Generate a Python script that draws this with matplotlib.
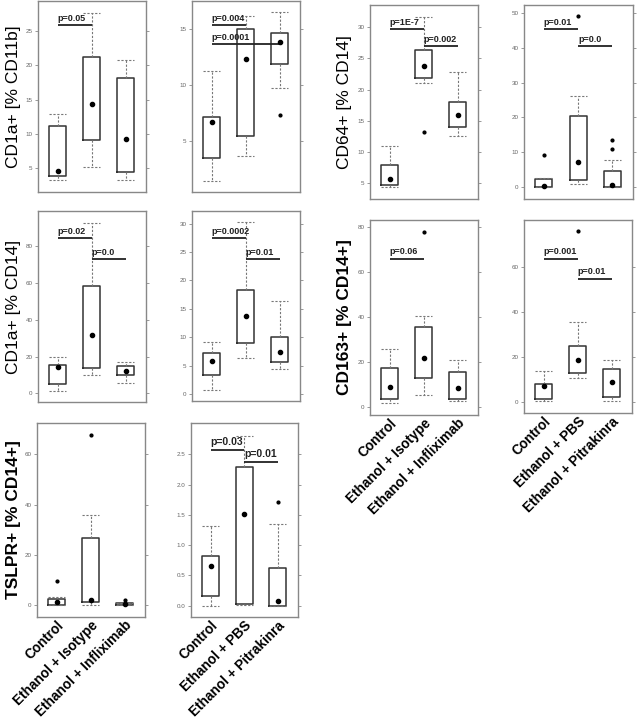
import matplotlib
matplotlib.use("Agg")
from matplotlib import pyplot as plt

plt.rcParams['font.family'] = ['Liberation Sans', 'DejaVu Sans']

# each row: [whisker low, q1, q3, whisker high, mean dot]
cd1a_cd11b = [[3.3, 3.8, 11.1, 12.9, 4.6], [5.1, 9.1, 21.2, 27.6, 14.4], [3.2, 4.4, 18.2, 20.8, 9.3]]
cd1a_cd11b_out = [[], [], []]
cd1a_cd11b_p = [("p=0.05", 1, 2, 25.9)]

cd1a_cd11b_b = [[1.4, 3.4, 7.1, 11.2, 6.7], [3.6, 5.4, 15.0, 16.2, 12.3], [9.7, 11.9, 14.6, 16.5, 13.8]]
cd1a_cd11b_b_out = [[], [], [7.3]]
cd1a_cd11b_b_p = [("p=0.004", 1, 2, 15.36), ("p=0.0001", 1, 3, 13.66)]

cd64 = [[4.3, 4.6, 7.9, 10.9, 5.6], [21.0, 21.8, 26.3, 31.7, 23.8], [12.5, 13.9, 18.0, 22.9, 15.9]]
cd64_out = [[], [13.1], []]
cd64_p = [("p=1E-7", 1, 2, 29.7), ("p=0.002", 2, 3, 27.0)]

cd64_b = [[0.0, 0.0, 2.3, 2.5, 0.4], [0.9, 2.0, 20.4, 26.1, 7.2], [0.0, 0.0, 4.5, 7.9, 0.6]]
cd64_b_out = [[9.3], [49.0], [10.9, 13.5]]
cd64_b_p = [("p=0.01", 1, 2, 45.4), ("p=0.0", 2, 3, 40.5)]

cd1a_cd14 = [[1.5, 5.1, 15.3, 20.0, 14.2], [10.2, 14.0, 58.5, 92.5, 31.6], [5.6, 10.2, 15.1, 17.1, 12.0]]
cd1a_cd14_out = [[], [], []]
cd1a_cd14_p = [("p=0.02", 1, 2, 84.5), ("p=0.0", 2, 3, 73.2)]

cd1a_cd14_b = [[0.8, 3.4, 7.3, 9.2, 5.8], [6.4, 9.05, 18.3, 30.2, 13.7], [4.5, 5.6, 10.1, 16.3, 7.4]]
cd1a_cd14_b_out = [[], [], []]
cd1a_cd14_b_p = [("p=0.0002", 1, 2, 27.4), ("p=0.01", 2, 3, 23.8)]

cd163 = [[1.8, 3.8, 17.4, 25.7, 9.0], [5.6, 13.1, 35.7, 40.5, 21.7], [2.9, 3.5, 15.8, 21.1, 8.4]]
cd163_out = [[], [77.6], []]
cd163_p = [("p=0.06", 1, 2, 65.9)]

cd163_b = [[0.4, 1.3, 7.8, 13.8, 6.9], [10.8, 13.0, 24.9, 35.4, 18.8], [0.3, 2.2, 14.5, 18.5, 9.0]]
cd163_b_out = [[], [76.3], []]
cd163_b_p = [("p=0.001", 1, 2, 63.8), ("p=0.01", 2, 3, 54.9)]

tslpr = [[0.0, 0.0, 2.5, 3.3, 1.2], [0.15, 1.2, 26.9, 36.0, 2.25], [0.0, 0.1, 0.9, 1.1, 0.4]]
tslpr_out = [[9.9], [67.7], [2.1]]
tslpr_p = []

tslpr_b = [[0.0, 0.16, 0.82, 1.31, 0.66], [0.01, 0.03, 2.29, 2.81, 1.52], [0.0, 0.0, 0.62, 1.35, 0.07]]
tslpr_b_out = [[], [], [1.71]]
tslpr_b_p = [("p=0.03", 1, 2, 2.58), ("p=0.01", 2, 3, 2.38)]

groups_ifx = ["Control", "Ethanol + Isotype", "Ethanol + Infliximab"]
groups_pit = ["Control", "Ethanol + PBS", "Ethanol + Pitrakinra"]

W, H = 638, 720
fig = plt.figure(figsize=(6.38, 7.2), dpi=100)


def panel(px, stats, outs, pvals, ylim, yticks, xlabels=None, ylabel=None,
          ylab_x=None, ylab_bold=False, pfont=6.5):
    x0, y0, x1, y1 = px
    ax = fig.add_axes([x0 / W, 1 - y1 / H, (x1 - x0) / W, (y1 - y0) / H])
    bs = []
    for s, o in zip(stats, outs):
        bs.append(dict(whislo=s[0], q1=s[1], med=s[4], q3=s[2], whishi=s[3],
                       mean=s[4], fliers=o))
    ax.bxp(bs, positions=[1, 2, 3], widths=0.5, showmeans=True, showfliers=True,
           boxprops=dict(color='#333333', lw=1.1),
           whiskerprops=dict(color='#777777', lw=0.8, ls=(0, (2, 1.5))),
           capprops=dict(color='#777777', lw=0.8, ls=(0, (2, 1.5))),
           capwidths=0.5,
           medianprops=dict(visible=False),
           meanprops=dict(marker='o', markerfacecolor='black', markeredgecolor='black',
                          markersize=3.0),
           flierprops=dict(marker='o', markerfacecolor='black', markeredgecolor='black',
                           markersize=2.0))
    for txt, i, j, y in pvals:
        ax.plot([i, j], [y, y], color='#222222', lw=1.3, solid_capstyle='butt')
        ax.text(i, y + (ylim[1] - ylim[0]) * 0.012, txt, fontsize=pfont,
                fontweight='bold', ha='left', va='bottom', color='#222222')
    ax.set_xlim(0.42, 3.6)
    ax.set_ylim(*ylim)
    ax.set_yticks(yticks)
    ax.tick_params(axis='y', which='both', left=True, right=True, direction='out',
                   length=2.5, width=0.6, color='#888888', labelsize=4.5,
                   labelcolor='#666666', pad=1.5)
    for sp in ax.spines.values():
        sp.set_color('#888888')
        sp.set_linewidth(1.0)
    if xlabels:
        ax.set_xticks([1, 2, 3])
        ax.set_xticklabels(xlabels, rotation=45, ha='right', rotation_mode='anchor',
                           fontsize=9.8, fontweight='bold')
        ax.tick_params(axis='x', length=0, pad=1.0)
    else:
        ax.set_xticks([])
    if ylabel:
        fig.text(ylab_x / W, 1 - (y0 + y1) / 2 / H, ylabel, rotation=90,
                 ha='center', va='center', fontsize=12.5,
                 fontweight='bold' if ylab_bold else 'normal')
    return ax


panel((38, 1, 146, 192), cd1a_cd11b, cd1a_cd11b_out, cd1a_cd11b_p,
      (1.5, 29.4), [5, 10, 15, 20, 25], ylabel="CD1a+ [% CD11b]", ylab_x=14)
panel((192, 1, 300, 192), cd1a_cd11b_b, cd1a_cd11b_b_out, cd1a_cd11b_b_p,
      (0.4, 17.5), [5, 10, 15])
panel((370, 5, 478, 199), cd64, cd64_out, cd64_p,
      (2.4, 33.6), [5, 10, 15, 20, 25, 30], ylabel="CD64+ [% CD14]", ylab_x=345)
panel((524, 5, 633, 199), cd64_b, cd64_b_out, cd64_b_p,
      (-3.4, 52.3), [0, 10, 20, 30, 40, 50])
panel((38, 211, 146, 402), cd1a_cd14, cd1a_cd14_out, cd1a_cd14_p,
      (-4.7, 99.2), [0, 20, 40, 60, 80], ylabel="CD1a+ [% CD14]", ylab_x=14)
panel((192, 211, 300, 401), cd1a_cd14_b, cd1a_cd14_b_out, cd1a_cd14_b_p,
      (-1.2, 32.2), [0, 5, 10, 15, 20, 25, 30])
panel((370, 220, 478, 415), cd163, cd163_out, cd163_p,
      (-3.4, 83.1), [0, 20, 40, 60, 80], xlabels=groups_ifx,
      ylabel="CD163+ [% CD14+]", ylab_x=345, ylab_bold=True)
panel((524, 220, 632, 413), cd163_b, cd163_b_out, cd163_b_p,
      (-4.9, 81.0), [0, 20, 40, 60], xlabels=groups_pit)
panel((37, 423, 145, 617), tslpr, tslpr_out, tslpr_p,
      (-4.6, 72.5), [0, 20, 40, 60], xlabels=groups_ifx,
      ylabel="TSLPR+ [% CD14+]", ylab_x=14, ylab_bold=True)
panel((191, 423, 298, 617), tslpr_b, tslpr_b_out, tslpr_b_p,
      (-0.19, 3.02), [0.0, 0.5, 1.0, 1.5, 2.0, 2.5], xlabels=groups_pit, pfont=7.5)

fig.savefig("out.png", dpi=100, facecolor='white')
